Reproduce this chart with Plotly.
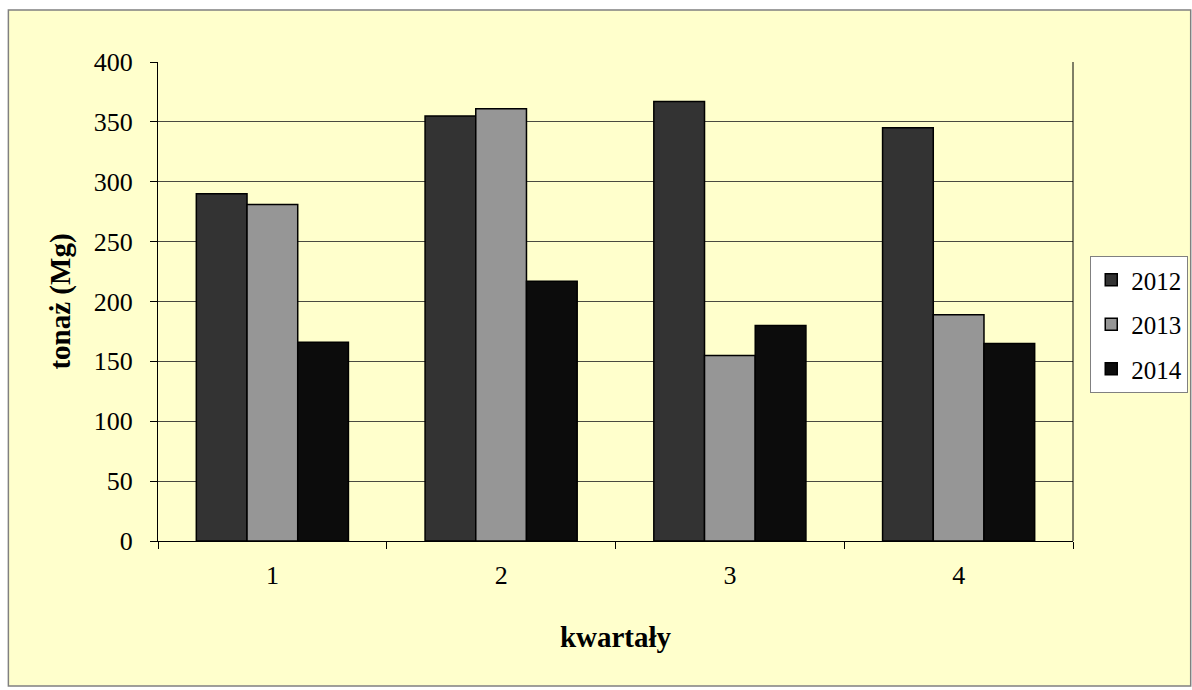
import plotly.graph_objects as go

quarters = ["1", "2", "3", "4"]
years = ["2012", "2013", "2014"]
v2012 = [290, 355, 367, 345]
v2013 = [281, 361, 155, 189]
v2014 = [166, 217, 180, 165]
values = [v2012, v2013, v2014]
colors = ["#333333", "#969696", "#0c0c0c"]
y_ticks = [0, 50, 100, 150, 200, 250, 300, 350, 400]

FONT = "Liberation Serif"

fig = go.Figure()
for yr, vals, col in zip(years, values, colors):
    fig.add_trace(go.Bar(
        x=quarters, y=vals, name=yr, legendgroup=yr,
        marker=dict(color=col, line=dict(color="#000000", width=1.5)),
    ))

SX = 1200 / 1192  # horizontal compensation observed in the rendering
W, H = 1200, 690
L = round(157 * SX)
R = W - round(1068 * SX)
T, B = 62, 149
pw, ph = W - L - R, H - T - B

def px(x):
    return (x * SX - L) / pw

def py(y):
    return (H - B - y) / ph

fig.add_shape(type="rect", xref="paper", yref="paper",
              x0=px(8), x1=px(1185), y0=py(686), y1=py(10),
              line=dict(color="#808080", width=1.5), fillcolor="#FFFFCC", layer="below")

fig.update_layout(
    width=W, height=H,
    margin=dict(l=L, r=R, t=T, b=B),
    paper_bgcolor="white",
    plot_bgcolor="#FFFFCC",
    barmode="group",
    bargap=0.335,
    bargroupgap=0,
    font=dict(family=FONT, size=26, color="#000000"),
    showlegend=True,
    legend=dict(
        x=px(1085), y=py(256), xanchor="left", yanchor="top",
        bgcolor="white", bordercolor="#808080", borderwidth=1,
        font=dict(family=FONT, size=25),
        tracegroupgap=9, itemwidth=30,
    ),
    xaxis=dict(
        type="category",
        showline=True, linecolor="#000000", linewidth=1,
        ticks="outside", ticklen=7, tickcolor="#000000", tickson="boundaries",
        ticklabelstandoff=11,
        title=dict(text="<b>kwartały</b>", font=dict(family=FONT, size=29), standoff=37),
        mirror=False,
    ),
    yaxis=dict(
        range=[0, 400], tickvals=y_ticks,
        showline=True, linecolor="#000000", linewidth=1,
        ticks="outside", ticklen=7, tickcolor="#000000",
        ticklabelstandoff=12,
        showgrid=True, gridcolor="#4a4a40", gridwidth=1,
        zeroline=False,
        title=dict(text="<b>tonaż (Mg)</b>", font=dict(family=FONT, size=29), standoff=14),
    ),
)

# right border of plot area
fig.add_shape(type="line", xref="paper", yref="paper", x0=1, x1=1, y0=0, y1=1,
              line=dict(color="#000000", width=1))

fig.write_html("out.html", config={"displayModeBar": False},
               post_script="document.body.style.margin='0';document.body.style.overflow='hidden';")
